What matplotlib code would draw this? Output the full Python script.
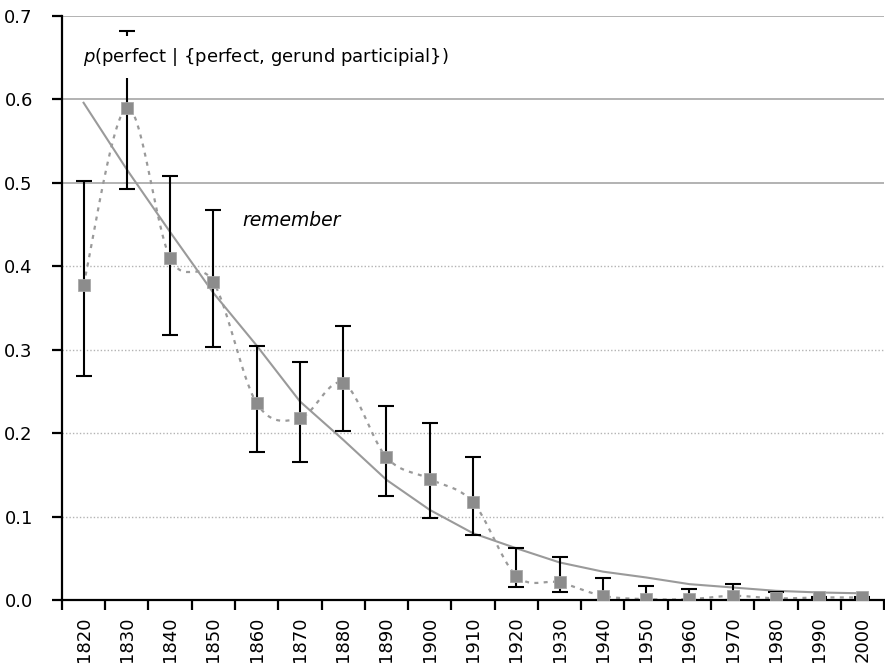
import numpy as np
import matplotlib
matplotlib.use("Agg")
import matplotlib.pyplot as plt

plt.rcParams['font.family'] = ['DejaVu Sans']
plt.rcParams['mathtext.fontset'] = 'dejavusans'

decades = ['1820', '1830', '1840', '1850', '1860', '1870', '1880', '1890', '1900', '1910',
           '1920', '1930', '1940', '1950', '1960', '1970', '1980', '1990', '2000']
proportion = [0.378, 0.590, 0.410, 0.381, 0.236, 0.218, 0.260, 0.171, 0.145, 0.117,
              0.029, 0.021, 0.005, 0.001, 0.001, 0.005, 0.002, 0.003, 0.003]
ci_upper = [0.502, 0.682, 0.508, 0.467, 0.305, 0.285, 0.328, 0.232, 0.212, 0.171,
            0.062, 0.052, 0.026, 0.017, 0.013, 0.019, 0.010, 0.004, 0.004]
ci_lower = [0.268, 0.493, 0.318, 0.303, 0.177, 0.165, 0.202, 0.125, 0.098, 0.078,
            0.015, 0.009, 0.000, 0.000, 0.000, 0.000, 0.000, 0.002, 0.002]
trend = [0.596, 0.516, 0.441, 0.368, 0.305, 0.238, 0.192, 0.144, 0.108, 0.080,
         0.062, 0.045, 0.034, 0.027, 0.019, 0.015, 0.011, 0.009, 0.008]

y = np.array(proportion)
x = np.arange(len(decades), dtype=float)
up = np.array(ci_upper) - y
lo = y - np.array(ci_lower)


def smooth_path(xs, ys, steps=30):
    """Catmull-Rom style smoothed line through the points."""
    px = np.concatenate([[xs[0]], xs, [xs[-1]]])
    py = np.concatenate([[ys[0]], ys, [ys[-1]]])
    out_x, out_y = [], []
    t = np.linspace(0, 1, steps)
    for i in range(1, len(px) - 2):
        p0, p1, p2, p3 = (np.array([px[j], py[j]]) for j in (i - 1, i, i + 1, i + 2))
        c1 = p1 + (p2 - p0) / 6.0
        c2 = p2 - (p3 - p1) / 6.0
        b = ((1 - t) ** 3)[:, None] * p1 + (3 * (1 - t) ** 2 * t)[:, None] * c1 \
            + (3 * (1 - t) * t ** 2)[:, None] * c2 + (t ** 3)[:, None] * p2
        out_x.extend(b[:, 0])
        out_y.extend(b[:, 1])
    return np.array(out_x), np.array(out_y)


fig = plt.figure(figsize=(8.85, 6.64), dpi=100)
ax = fig.add_axes([0.070, 0.0964, 0.929, 0.8795])

ax.set_xlim(-0.5, len(decades) - 0.5)
ax.set_ylim(0, 0.7)

# horizontal gridlines: solid above 0.4, dotted below
for g in [0.5, 0.6, 0.7]:
    ax.axhline(g, color='#a6a6a6', lw=1.2, zorder=0)
for g in [0.1, 0.2, 0.3, 0.4]:
    ax.axhline(g, color='#b3b3b3', lw=1.0, ls=(0, (1, 1.5)), zorder=0)

# smoothed connecting line
sx, sy = smooth_path(x, y)
ax.plot(sx, sy, color='#9a9a9a', lw=1.6, ls=(0, (1.8, 2.4)), zorder=2)

# trend line
ax.plot(x, trend, color='#9a9a9a', lw=1.5, zorder=2)

# error bars
ax.errorbar(x, y, yerr=[lo, up], fmt='none', ecolor='black', elinewidth=1.5,
            capsize=5.8, capthick=1.5, zorder=3)

# points
ax.plot(x, y, ls='none', marker='s', markersize=8, markerfacecolor='#8c8c8c',
        markeredgecolor='#a8a8a8', markeredgewidth=0.6, zorder=4)

# axes styling
for side in ['top', 'right']:
    ax.spines[side].set_visible(False)
for side in ['left', 'bottom']:
    ax.spines[side].set_linewidth(1.6)
    ax.spines[side].set_color('black')

ax.set_yticks(np.arange(0, 0.71, 0.1))
ax.set_yticklabels(['0.0', '0.1', '0.2', '0.3', '0.4', '0.5', '0.6', '0.7'])
ax.tick_params(axis='y', direction='out', length=7, width=1.6, labelsize=13, pad=14)

ax.set_xticks(np.arange(-0.5, len(decades), 1.0))
ax.set_xticklabels([])
ax.tick_params(axis='x', which='major', direction='out', length=7, width=1.6)
ax.set_xticks(x, minor=True)
ax.set_xticklabels(decades, minor=True, rotation=90)
ax.tick_params(axis='x', which='minor', length=0, labelsize=13, pad=12)

# annotations
ax.text(-0.02, 0.651, r'$p$(perfect | {perfect, gerund participial})',
        fontsize=13, va='center', ha='left', zorder=5,
        bbox=dict(facecolor='white', edgecolor='none', pad=7))
ax.text(3.66, 0.455, 'remember', style='italic', fontsize=13.5, va='center', ha='left')

fig.savefig('out.png', dpi=100)
